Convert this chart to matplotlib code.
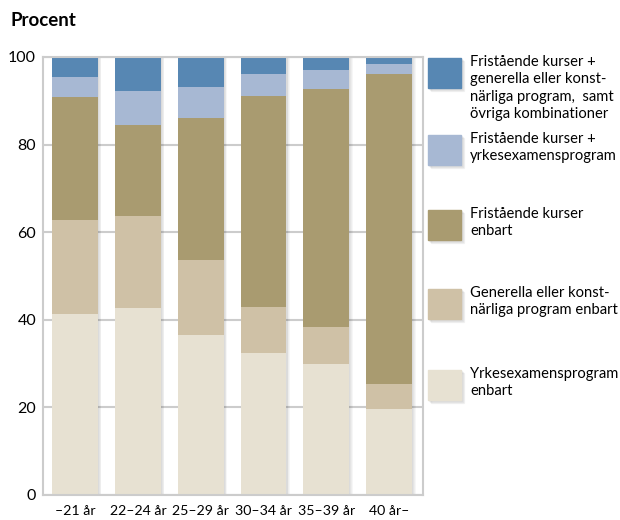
import numpy as np
import matplotlib
matplotlib.use("Agg")
import matplotlib.pyplot as plt
from matplotlib.patches import Rectangle

plt.rcParams['font.family'] = ['Lato', 'DejaVu Sans']

ages = ["\u201321 år", "22\u201324 år", "25\u201329 år", "30\u201334 år", "35\u201339 år", "40 år\u2013"]

# stacked from bottom to top
yrkes = [41.3, 42.7, 36.5, 32.4, 29.9, 19.7]
generella = [21.4, 21.0, 17.1, 10.5, 8.5, 5.7]
fristaende = [28.1, 20.7, 32.4, 48.1, 54.2, 70.7]
frist_yrkes = [4.6, 7.8, 7.1, 5.1, 4.4, 2.2]
frist_gen = [4.6, 7.8, 6.9, 3.9, 3.0, 1.7]

series = [yrkes, generella, fristaende, frist_yrkes, frist_gen]
labels = [
    "Yrkesexamensprogram\nenbart",
    "Generella eller konst-\nnärliga program enbart",
    "Fristående kurser\nenbart",
    "Fristående kurser +\nyrkesexamensprogram",
    "Fristående kurser +\ngenerella eller konst-\nnärliga program,  samt\növriga kombinationer",
]
colors = ["#e7e1d2", "#cfc1a6", "#a99b70", "#a7b8d3", "#5787b3"]

fig = plt.figure(figsize=(6.2, 5.2), dpi=100)
ax = fig.add_axes([43 / 620, 25 / 520, 380 / 620, 438 / 520])

x = np.arange(len(ages))
w = 0.73
gray = "#cccccc"

for yv in [0, 20, 40, 60, 80, 100]:
    ax.axhline(yv, color=gray, lw=1.5, zorder=0)

# soft shadow to the right of each bar
tot = np.sum(series, axis=0)
for k in range(4):
    ax.bar(x + 0.02 + k * 0.012, tot, w, color="#000000", alpha=0.035, zorder=1)

bottom = np.zeros(len(ages))
for vals, c in zip(series, colors):
    ax.bar(x, vals, w, bottom=bottom, color=c, zorder=2)
    bottom += np.array(vals)

ax.set_xlim(-0.51, 5.54)
ax.set_ylim(0, 100)
for s in ax.spines.values():
    s.set_color(gray)
    s.set_linewidth(1.5)
ax.set_yticks([0, 20, 40, 60, 80, 100])
ax.set_xticks(x)
ax.set_xticklabels(ages, fontsize=10.2)
ax.tick_params(axis="both", length=0, colors="black")
ax.tick_params(axis="y", pad=5, labelsize=11.5)
ax.tick_params(axis="x", pad=7)

fig.text(10 / 620, 1 - 20 / 520, "Procent", fontsize=13.5, fontweight="bold", va="center")

# legend drawn next to the plot
tops = [370, 289, 210, 135, 58]
for lab, c, t in zip(labels, colors, tops):
    for k in range(3):
        fig.patches.append(Rectangle(((429 + k) / 620, 1 - (t + 31 + k) / 520), 33 / 620, 30 / 520,
                                     transform=fig.transFigure, color="black", alpha=0.04))
    fig.patches.append(Rectangle((428 / 620, 1 - (t + 30) / 520), 33 / 620, 30 / 520,
                                 transform=fig.transFigure, color=c))
    fig.text(470 / 620, 1 - (t - 3) / 520, lab, fontsize=10.6, va="top", ha="left", linespacing=1.3)

fig.savefig("out.png", dpi=100)
